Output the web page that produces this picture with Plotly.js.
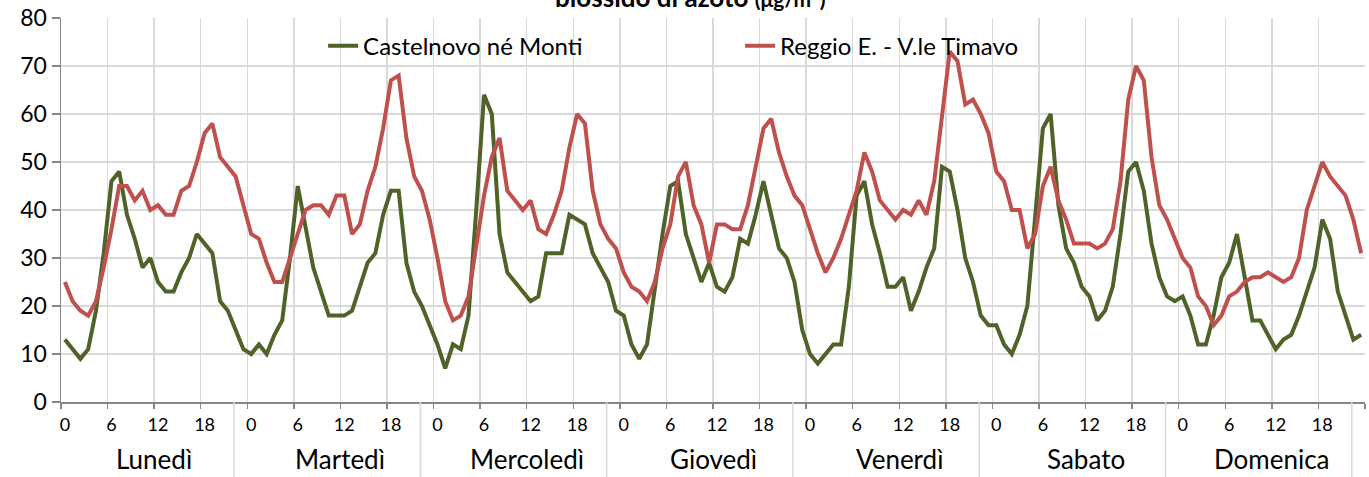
<!DOCTYPE html>
<html>
<head>
<meta charset="utf-8">
<script src="https://cdn.plot.ly/plotly-3.0.1.min.js"></script>
<style>
  html, body { margin: 0; padding: 0; background: #ffffff; }
  #chart { width: 1369px; height: 477px; }
</style>
</head>
<body>
<div id="chart"></div>
<script>
// ---- data ----
const days = ["Lunedì", "Martedì", "Mercoledì", "Giovedì", "Venerdì", "Sabato", "Domenica"];
const hourLabels = ["0", "6", "12", "18"];
const seriesNames = ["Castelnovo né Monti", "Reggio E. - V.le Timavo"];

const castelnovo = [
  13, 11, 9, 11, 19, 31, 46, 48, 39, 34, 28, 30, 25, 23, 23, 27, 30, 35, 33, 31, 21, 19, 15, 11,
  10, 12, 10, 14, 17, 30, 45, 37, 28, 23, 18, 18, 18, 19, 24, 29, 31, 39, 44, 44, 29, 23, 20, 16,
  12, 7, 12, 11, 18, 40, 64, 60, 35, 27, 25, 23, 21, 22, 31, 31, 31, 39, 38, 37, 31, 28, 25, 19,
  18, 12, 9, 12, 24, 35, 45, 46, 35, 30, 25, 29, 24, 23, 26, 34, 33, 39, 46, 39, 32, 30, 25, 15,
  10, 8, 10, 12, 12, 24, 43, 46, 37, 31, 24, 24, 26, 19, 23, 28, 32, 49, 48, 40, 30, 25, 18, 16,
  16, 12, 10, 14, 20, 38, 57, 60, 41, 32, 29, 24, 22, 17, 19, 24, 35, 48, 50, 44, 33, 26, 22, 21,
  22, 18, 12, 12, 18, 26, 29, 35, 26, 17, 17, 14, 11, 13, 14, 18, 23, 28, 38, 34, 23, 18, 13, 14
];
const reggio = [
  25, 21, 19, 18, 21, 28, 36, 45, 45, 42, 44, 40, 41, 39, 39, 44, 45, 50, 56, 58, 51, 49, 47, 41,
  35, 34, 29, 25, 25, 30, 35, 40, 41, 41, 39, 43, 43, 35, 37, 44, 49, 57, 67, 68, 55, 47, 44, 38,
  30, 21, 17, 18, 22, 32, 43, 51, 55, 44, 42, 40, 42, 36, 35, 39, 44, 53, 60, 58, 44, 37, 34, 32,
  27, 24, 23, 21, 25, 32, 37, 47, 50, 41, 37, 29, 37, 37, 36, 36, 41, 49, 57, 59, 52, 47, 43, 41,
  36, 31, 27, 30, 34, 39, 44, 52, 48, 42, 40, 38, 40, 39, 42, 39, 46, 60, 73, 71, 62, 63, 60, 56,
  48, 46, 40, 40, 32, 35, 45, 49, 42, 38, 33, 33, 33, 32, 33, 36, 46, 63, 70, 67, 51, 41, 38, 34,
  30, 28, 22, 20, 16, 18, 22, 23, 25, 26, 26, 27, 26, 25, 26, 30, 40, 45, 50, 47, 45, 43, 38, 31
];

// ---- build ----
const HOURS = 24;
const n = days.length * HOURS;
const xIdx = Array.from({length: n}, (_, i) => i);

const tickvals = [], ticktext = [];
days.forEach((d, k) => hourLabels.forEach(h => { tickvals.push(k * HOURS + Number(h)); ticktext.push(h); }));

const gridvals = [];
for (let v = -0.5; v <= n; v += 6) gridvals.push(v);

const FONT = "Lato, 'Open Sans', sans-serif";
const GRID = "#d9d9d9";
const AX = "#868686";

const traces = [
  { x: xIdx, y: castelnovo, name: seriesNames[0], type: "scatter", mode: "lines",
    line: { color: "#4F6228", width: 4 } },
  { x: xIdx, y: reggio, name: seriesNames[1], type: "scatter", mode: "lines",
    line: { color: "#C0504D", width: 4 } }
];

const annotations = days.map((d, k) => ({
  text: d, xref: "x", yref: "paper", x: k * HOURS + 11.5, y: -0.148,
  xanchor: "center", yanchor: "middle", showarrow: false,
  font: { family: FONT, size: 26, color: "#000" }
}));
annotations.push({
  text: "<b>biossido di azoto <span style='font-size:21px'>(μg/m<sup>3</sup>)</span></b>",
  xref: "paper", yref: "paper", x: 0.482, y: 1.008, xanchor: "center", yanchor: "bottom",
  showarrow: false, font: { family: FONT, size: 26, color: "#000" }
});

const sepX = [-0.6].concat(days.map((d, k) => 21.8 + HOURS * k));
const shapes = sepX.map(x => ({
  type: "line", xref: "x", yref: "paper", x0: x, x1: x, y0: 0, y1: -0.2,
  line: { color: GRID, width: 1.5 }
}));

const layout = {
  width: 1369, height: 477,
  margin: { l: 61, r: 4, t: 18, b: 75 },
  paper_bgcolor: "#ffffff", plot_bgcolor: "#ffffff",
  font: { family: FONT, color: "#000" },
  showlegend: true,
  legend: {
    orientation: "h", x: 0.201, y: 0.927, xanchor: "left", yanchor: "middle",
    font: { family: FONT, size: 24, color: "#000" },
    entrywidth: 372, entrywidthmode: "pixels", itemwidth: 30,
    bgcolor: "rgba(0,0,0,0)", traceorder: "normal"
  },
  xaxis: {
    range: [-0.5, n - 0.5], tickmode: "array", tickvals: tickvals, ticktext: ticktext,
    showgrid: false, zeroline: false, ticks: "", ticklabelstandoff: 6,
    showline: true, linecolor: AX, linewidth: 1.5,
    tickfont: { family: FONT, size: 18, color: "#000" },
    minor: {
      tickmode: "array", tickvals: gridvals, showgrid: true, gridcolor: GRID, gridwidth: 1.5,
      ticks: "outside", ticklen: 5, tickcolor: AX, tickwidth: 1.5
    }
  },
  yaxis: {
    range: [0, 80], dtick: 10, tick0: 0, showgrid: true, gridcolor: GRID, gridwidth: 1.5,
    zeroline: false, showline: true, linecolor: AX, linewidth: 1.5,
    ticks: "outside", ticklen: 8, tickcolor: AX, tickwidth: 1.5,
    tickfont: { family: FONT, size: 23, color: "#000" }
  },
  annotations: annotations,
  shapes: shapes
};

Plotly.newPlot("chart", traces, layout, { displayModeBar: false, staticPlot: true });
</script>
</body>
</html>
